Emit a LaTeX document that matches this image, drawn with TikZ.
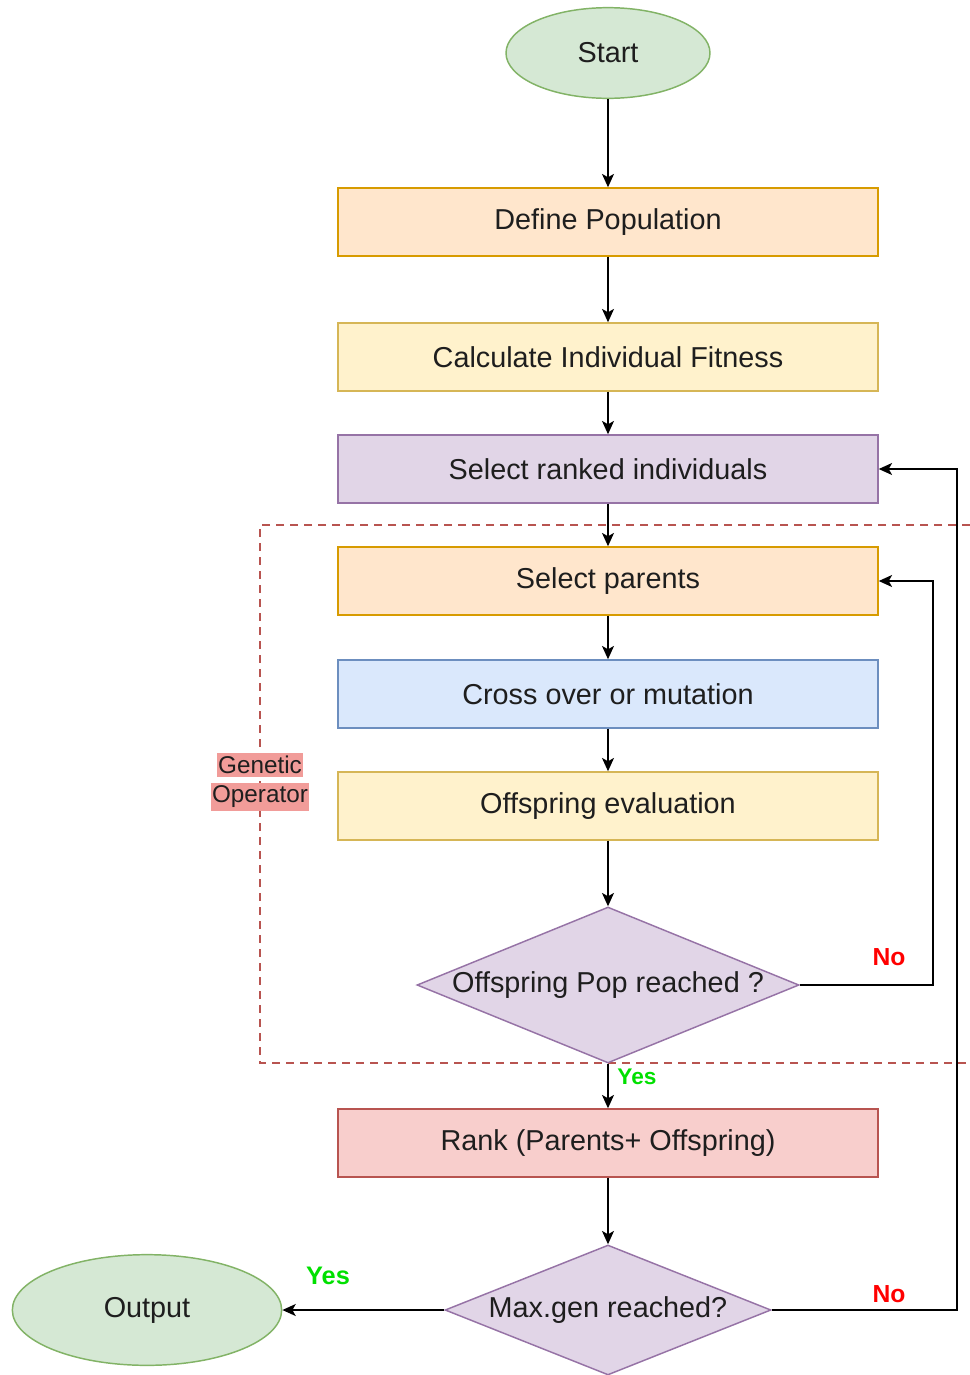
\documentclass[tikz,border=0pt]{standalone}
\usepackage{fontspec}
\setmainfont{Liberation Sans}
\usetikzlibrary{shapes.geometric,arrows.meta}

\definecolor{txt}{HTML}{1E1E1E}
\definecolor{greenfill}{HTML}{D5E8D4}
\definecolor{greenline}{HTML}{82B366}
\definecolor{orangefill}{HTML}{FFE6CC}
\definecolor{orangeline}{HTML}{D79B00}
\definecolor{yellowfill}{HTML}{FFF2CC}
\definecolor{yellowline}{HTML}{D6B656}
\definecolor{purplefill}{HTML}{E1D5E7}
\definecolor{purpleline}{HTML}{9673A6}
\definecolor{bluefill}{HTML}{DAE8FC}
\definecolor{blueline}{HTML}{6C8EBF}
\definecolor{redfill}{HTML}{F8CECC}
\definecolor{redline}{HTML}{B85450}
\definecolor{labelfill}{HTML}{F19C99}
\definecolor{yesgreen}{HTML}{00E000}
\definecolor{nored}{HTML}{FF0000}

\begin{document}
\begin{tikzpicture}[x=0.75pt,y=-0.75pt,
  mainfont/.style={font=\fontsize{21.6}{25}\selectfont},
  stepbox/.style={draw, rectangle, line width=1.1pt, minimum width=405pt,
    minimum height=51pt, inner sep=0pt, text=txt, mainfont},
  terminal/.style={draw, ellipse, line width=1.1pt, fill=greenfill,
    draw=greenline, inner sep=0pt, text=txt, mainfont},
  decision/.style={draw, diamond, line width=1.1pt, fill=purplefill,
    draw=purpleline, inner sep=0pt},
  decisiontext/.style={text=txt, mainfont, inner sep=0pt},
  arr/.style={draw=black, line width=1.2pt,
    -{Stealth[length=10pt,width=9pt,inset=2.5pt]}},
  frame/.style={draw=redline, line width=1pt, dash pattern=on 6pt off 4.5pt},
  grouplabel/.style={fill=labelfill, inner xsep=1pt, inner ysep=2pt,
    text=txt, font=\fontsize{18.2}{20}\selectfont},
  yeslabel/.style={text=yesgreen, font=\bfseries\fontsize{17}{20}\selectfont},
  nolabel/.style={text=nored, font=\bfseries\fontsize{18.5}{20}\selectfont}]

\useasboundingbox (0,0) rectangle (970,1375);

% group frame around the genetic operator steps (open on the right)
\draw[frame] (970,525) -- (260,525) -- (260,1063) -- (970,1063);

% flow nodes
\node[terminal, minimum width=153pt, minimum height=68pt] (start) at (608,53) {Start};
\node[stepbox, fill=orangefill, draw=orangeline] (define) at (608,222) {Define Population};
\node[stepbox, fill=yellowfill, draw=yellowline] (fitness) at (608,357) {Calculate Individual Fitness};
\node[stepbox, fill=purplefill, draw=purpleline] (ranked) at (608,469) {Select ranked individuals};
\node[stepbox, fill=orangefill, draw=orangeline] (parents) at (608,581) {Select parents};
\node[stepbox, fill=bluefill, draw=blueline] (cross) at (608,694) {Cross over or mutation};
\node[stepbox, fill=yellowfill, draw=yellowline] (offeval) at (608,806) {Offspring evaluation};
\node[decision, minimum width=286.5pt, minimum height=117pt] (popcheck) at (608,985) {};
\node[decisiontext] (popchecktext) at (popcheck.center) {Offspring Pop reached ?};
\node[stepbox, fill=redfill, draw=redline] (rank) at (608,1143) {Rank (Parents+ Offspring)};
\node[decision, minimum width=244.5pt, minimum height=97.5pt] (gencheck) at (608,1310) {};
\node[decisiontext] (genchecktext) at (gencheck.center) {Max.gen reached?};
\node[terminal, minimum width=202pt, minimum height=83pt] (output) at (147,1310) {Output};

% group label
\node[grouplabel] (glabA) at (260,765) {Genetic};
\node[grouplabel] (glabB) at (260,797) {Operator};

% main flow
\draw[arr] (start) -- (define);
\draw[arr] (define) -- (fitness);
\draw[arr] (fitness) -- (ranked);
\draw[arr] (ranked) -- (parents);
\draw[arr] (parents) -- (cross);
\draw[arr] (cross) -- (offeval);
\draw[arr] (offeval) -- (popcheck);
\draw[arr] (popcheck) -- (rank);
\draw[arr] (rank) -- (gencheck);
\draw[arr] (gencheck) -- (output);

% feedback loops
\draw[arr] (popcheck.east) -- ++(133,0) |- (parents.east);
\draw[arr] (gencheck.east) -- ++(185,0) |- (ranked.east);

% branch labels
\node[yeslabel] (yesA) at (637,1077) {Yes};
\node[nolabel] (noA) at (889,957) {No};
\node[yeslabel, font=\bfseries\fontsize{19}{22}\selectfont] (yesB) at (328,1276) {Yes};
\node[nolabel] (noB) at (889,1294) {No};

\end{tikzpicture}
\end{document}
